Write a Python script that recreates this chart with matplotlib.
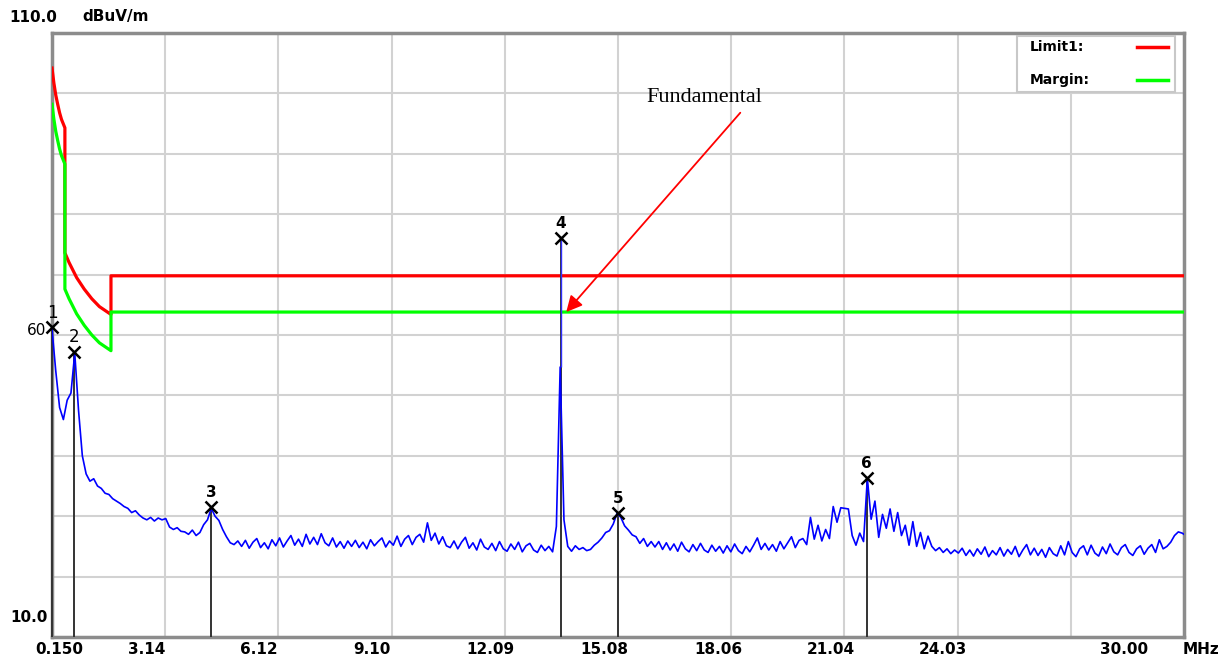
import numpy as np
import matplotlib.pyplot as plt
import matplotlib.patches as mpatches
import matplotlib.transforms as mtransforms

W, H = 1231, 666

# spectrum trace, every 0.1 MHz starting at 0.15 MHz
freq_start = 0.15
freq_step = 0.1
trace_dbuv = [
    61.0, 54.0, 48.0, 46.0, 49.2, 50.4, 57.0, 47.5, 40.0, 37.0,
    35.8, 36.2, 35.0, 34.6, 33.8, 33.6, 32.9, 32.5, 32.1, 31.6,
    31.3, 30.6, 30.9, 30.2, 29.7, 29.4, 29.8, 29.2, 29.7, 29.4,
    29.6, 28.2, 27.8, 28.1, 27.5, 27.4, 27.0, 27.7, 26.8, 27.3,
    28.6, 29.4, 31.3, 30.0, 29.3, 27.8, 26.6, 25.6, 25.3, 25.9,
    25.0, 26.0, 24.7, 25.7, 26.3, 24.8, 25.6, 24.6, 26.1, 25.1,
    26.4, 24.9, 25.9, 26.8, 25.2, 26.2, 25.0, 27.0, 25.4, 26.5,
    25.3, 27.1, 25.6, 25.1, 26.4, 24.9, 25.8, 24.7, 25.9, 25.0,
    26.0, 24.8, 25.7, 24.6, 26.1, 25.1, 25.8, 26.4, 24.9, 25.9,
    25.2, 26.7, 25.0, 26.2, 26.8, 25.3, 26.5, 27.0, 25.7, 28.9,
    26.0, 27.2, 25.4, 26.6, 25.1, 24.8, 25.9, 24.6, 25.7, 26.5,
    24.7, 25.6, 24.4, 26.2, 24.9, 24.5, 25.5, 24.3, 25.8, 24.6,
    24.2, 25.4, 24.5, 25.7, 24.1, 25.1, 25.5, 24.4, 24.0, 25.2,
    24.3, 25.0, 24.1, 28.3, 54.7, 29.4, 25.0, 24.2, 25.1, 24.5,
    24.8, 24.3, 24.5, 25.2, 25.7, 26.4, 27.3, 27.6, 28.7, 30.5,
    29.8, 28.4, 27.7, 26.9, 26.6, 25.5, 26.3, 25.0, 25.8, 24.9,
    25.8, 24.5, 25.6, 24.4, 25.4, 24.2, 25.7, 24.6, 24.1, 25.3,
    24.3, 25.5, 24.4, 24.0, 25.2, 24.2, 25.0, 23.9, 25.1, 24.1,
    25.4, 24.3, 23.8, 25.0, 24.1, 25.2, 26.4, 24.5, 25.5, 24.4,
    25.3, 24.2, 25.8, 24.6, 25.6, 26.6, 24.8, 26.0, 26.3, 25.3,
    29.8, 26.2, 28.5, 25.9, 27.8, 26.3, 31.6, 29.0, 31.4, 31.3,
    31.2, 26.8, 25.2, 27.2, 25.8, 36.3, 29.5, 32.5, 26.5, 30.3,
    28.0, 31.2, 27.5, 30.6, 26.8, 28.5, 25.2, 29.1, 25.0, 27.3,
    24.6, 26.7, 25.0, 24.3, 24.8, 24.0, 24.6, 23.8, 24.4, 23.9,
    24.7, 23.5, 24.4, 23.4, 24.6, 23.7, 24.9, 23.3, 24.3, 23.6,
    24.8, 23.4, 24.5, 23.7, 25.0, 23.3, 24.4, 25.3, 23.6, 24.7,
    23.5, 24.5, 23.2, 24.8, 23.8, 23.4, 25.1, 23.6, 25.8, 24.0,
    23.3, 24.6, 25.1, 23.6, 25.2, 23.9, 23.4, 24.9, 23.8, 25.4,
    24.1, 23.6, 24.8, 25.3, 24.0, 23.5, 24.6, 25.1, 23.7, 24.7,
    25.3, 24.0, 26.1, 24.6, 25.0, 25.7, 26.8, 27.4, 27.2, 26.8,
]

limit_freq = [0.15, 0.20, 0.25, 0.30, 0.35, 0.40, 0.49, 0.49, 0.60, 0.80,
              1.00, 1.20, 1.40, 1.705, 1.705, 30.0]
limit_dbuv = [104.2, 101.7, 99.7, 98.2, 96.8, 95.7, 94.3, 73.6, 72.0, 69.5,
              67.6, 66.0, 64.7, 63.4, 69.8, 69.8]
margin_dbuv = [98.2, 95.7, 93.7, 92.2, 90.8, 89.7, 88.3, 67.6, 66.0, 63.5,
               61.6, 60.0, 58.7, 57.4, 63.8, 63.8]

marker_names = ['1', '2', '3', '4', '5', '6']
marker_freq = [0.15, 0.73, 4.35, 13.56, 15.08, 21.63]
marker_dbuv = [61.3, 57.2, 31.5, 76.1, 30.5, 36.3]
fundamental_idx = 3

x_grid = [0.15, 3.135, 6.12, 9.105, 12.09, 15.075, 18.06, 21.045, 24.03, 27.015, 30.0]
x_labels = ['0.150', '3.14', '6.12', '9.10', '12.09', '15.08', '18.06', '21.04', '24.03', '', '30.00']
y_grid = [10, 20, 30, 40, 50, 60, 70, 80, 90, 100, 110]

# label shifts in pixels relative to their grid line
x_label_shift = [7, -19, -20, -20, -14, -14, -13, -14, -15, 0, -60]


def px(x, y):
    return x / W, 1 - y / H


freq = freq_start + freq_step * np.arange(len(trace_dbuv))

fig = plt.figure(figsize=(W / 100, H / 100), dpi=100)
ax = fig.add_axes([52 / W, 1 - 637 / H, 1132 / W, 604 / H])
ax.set_xlim(0.15, 30.0)
ax.set_ylim(10, 110)

ax.set_xticks(x_grid)
ax.set_yticks(y_grid)
ax.tick_params(length=0, labelbottom=False, labelleft=False)
ax.grid(True, color='#d2d2d2', lw=1.5)
ax.set_axisbelow(True)
for s in ax.spines.values():
    s.set_color('#8c8c8c')
    s.set_linewidth(2.5)

ax.plot(limit_freq, limit_dbuv, color='#ff0000', lw=2.3, zorder=3)
ax.plot(limit_freq, margin_dbuv, color='#00ff00', lw=2.3, zorder=3)

# marker stems
ax.vlines(marker_freq, 10, marker_dbuv, color='#333333', lw=1.4, zorder=3,
          clip_on=False)

ax.plot(freq, trace_dbuv, color='#0000ff', lw=1.2, zorder=4)
ax.vlines(marker_freq[fundamental_idx], trace_dbuv[134], marker_dbuv[fundamental_idx],
          color='#3030ff', lw=1.0, zorder=4)

ax.plot(marker_freq, marker_dbuv, ls='none', marker='x', color='black',
        ms=8, mew=1.8, zorder=6, clip_on=False)
for name, f, v in zip(marker_names, marker_freq, marker_dbuv):
    ax.annotate(name, (f, v), xytext=(0, 10.5), textcoords='offset points',
                ha='center', va='center', fontsize=11 if name not in ('1', '2') else 12,
                fontweight='bold' if name not in ('1', '2') else 'normal',
                zorder=7, annotation_clip=False)

# annotation of the fundamental
ax.annotate('', xy=(13.71, 63.8), xytext=(18.3, 96.8),
            arrowprops=dict(arrowstyle='-|>', color='red', lw=1.3,
                            mutation_scale=24, shrinkA=0, shrinkB=0),
            zorder=8)
ax.text(17.35, 99.4, 'Fundamental', fontsize=16, family='Liberation Serif',
        ha='center', va='center', zorder=8)

# x labels
blend = mtransforms.blended_transform_factory(ax.transData, fig.transFigure)
for xv, lab, dx in zip(x_grid, x_labels, x_label_shift):
    if not lab:
        continue
    tr = mtransforms.offset_copy(blend, fig=fig, x=dx, y=0, units='dots')
    ax.text(xv, 1 - 650 / H, lab, transform=tr, ha='center', va='center',
            fontsize=11, fontweight='bold', clip_on=False)

fig.text(*px(1201, 649), 'MHz', ha='center', va='center', fontsize=11, fontweight='bold')
fig.text(*px(33, 17), '110.0', ha='center', va='center', fontsize=11, fontweight='bold')
fig.text(*px(116, 17), 'dBuV/m', ha='center', va='center', fontsize=11, fontweight='bold')
fig.text(*px(29, 618), '10.0', ha='center', va='center', fontsize=11, fontweight='bold')
fig.text(*px(46, 330), '60', ha='right', va='center', fontsize=11)

# legend box (text first, line sample on the right)
box = mpatches.Rectangle(px(1017, 92), 158 / W, 56 / H, transform=fig.transFigure,
                         facecolor='white', edgecolor='#c8c8c8', lw=1.5, zorder=9,
                         clip_on=False)
ax.add_patch(box)
for label, col, yy in [('Limit1:', '#ff0000', 47), ('Margin:', '#00ff00', 80)]:
    fig.text(*px(1030, yy), label, ha='left', va='center', fontsize=10,
             fontweight='bold', zorder=10)
    x0, y0 = px(1137, yy)
    x1, _ = px(1168, yy)
    fig.add_artist(plt.Line2D([x0, x1], [y0, y0], transform=fig.transFigure,
                              color=col, lw=2.5, zorder=10))

fig.savefig('out.png', dpi=100)
